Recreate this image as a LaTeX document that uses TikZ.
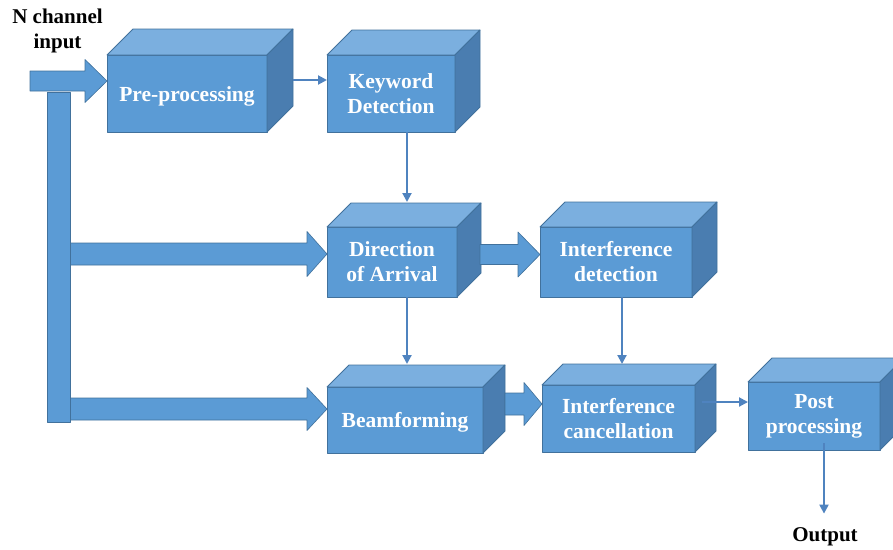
\documentclass[tikz,border=0pt]{standalone}
\usepackage{fontspec}
\setmainfont{Liberation Serif}
\usetikzlibrary{calc,arrows.meta}
\definecolor{frontc}{HTML}{5B9BD5}
\definecolor{topc}{HTML}{7BAFDF}
\definecolor{sidec}{HTML}{4A7DB0}
\definecolor{edgec}{HTML}{41719C}
\definecolor{connc}{HTML}{4F83BF}
\newcommand\cubefaces[2]{%
  \filldraw[topface] (#1.north west) -- ([shift={(#2,-#2)}]#1.north west) -- ([shift={(#2,-#2)}]#1.north east) -- (#1.north east) -- cycle;
  \filldraw[sideface] (#1.north east) -- ([shift={(#2,-#2)}]#1.north east) -- ([shift={(#2,-#2)}]#1.south east) -- (#1.south east) -- cycle;}
\newcommand\bigarrow[5]{%
  \filldraw[bigarr] let \p1=(#1), \p2=(#2) in
  (\x1,\y2+#3) -- (\x2-#5,\y2+#3) -- (\x2-#5,\y2+#4) -- (\x2,\y2) -- (\x2-#5,\y2-#4) -- (\x2-#5,\y2-#3) -- (\x1,\y2-#3) -- cycle;}
\begin{document}
\begin{tikzpicture}[x=1pt,y=-1pt,line join=round,
  box/.style={draw=edgec, fill=frontc, line width=0.8pt, outer sep=0pt, inner sep=0pt,
    text=white, font=\bfseries\fontsize{21.5}{25}\selectfont, align=center},
  topface/.style={fill=topc, draw=edgec, line width=0.8pt},
  sideface/.style={fill=sidec, draw=edgec, line width=0.8pt},
  conn/.style={draw=connc, line width=2pt, -{Triangle[length=9pt,width=9pt]}},
  bigarr/.style={fill=frontc, draw=edgec, line width=0.6pt},
  lbl/.style={font=\bfseries\fontsize{21}{25}\selectfont, align=center, inner sep=0pt}]
\useasboundingbox (0,0) rectangle (893,549);
\clip (0,0) rectangle (893,549);

% boxes (front faces)
\node[box, minimum width=160pt, minimum height=77pt] (pre) at (187,93.5) {\raisebox{-3pt}[\height][\depth]{Pre-processing}};
\node[box, minimum width=128pt, minimum height=77pt] (kw) at (391,93.5) {Keyword\\Detection};
\node[box, minimum width=130pt, minimum height=70pt] (doa) at (392,262) {Direction\\of Arrival};
\node[box, minimum width=152pt, minimum height=70pt] (id) at (616,262) {Interference\\detection};
\node[box, minimum width=156pt, minimum height=66pt] (bf) at (405,420) {\raisebox{-2pt}[\height][\depth]{Beamforming}};
\node[box, minimum width=153pt, minimum height=67pt] (ic) at (618.5,418.5) {Interference\\cancellation};
\node[box, minimum width=132pt, minimum height=68pt] (post) at (814,416) {Post\\processing};
\cubefaces{pre}{26}
\cubefaces{kw}{25}
\cubefaces{doa}{24}
\cubefaces{id}{25}
\cubefaces{bf}{22}
\cubefaces{ic}{21}
\cubefaces{post}{24}

% labels
\node[lbl] (nin) at (57.5,31) {N channel\\input};
\node[lbl] (out) at (825,537) {Output};

% wide arrows
\coordinate (in) at (30,82);
\coordinate (busA) at (70,254);
\coordinate (busB) at (70,409);
\bigarrow{in}{[yshift=12.5pt]pre.west}{10pt}{21.5pt}{22pt}
\bigarrow{busA}{[yshift=8pt]doa.west}{11pt}{22.5pt}{20pt}
\bigarrow{busB}{[yshift=11pt]bf.west}{11pt}{21.5pt}{20pt}
\bigarrow{[shift={(23,-7.5)}]doa.east}{[yshift=7.5pt]id.west}{10pt}{22.5pt}{22pt}
\bigarrow{[shift={(22,-14.5)}]bf.east}{[yshift=14.5pt]ic.west}{11pt}{21.5pt}{18pt}
\node[bigarr, minimum width=23pt, minimum height=330pt, inner sep=0pt, outer sep=0pt] (bus) at (58.5,257) {};

% thin connectors
\coordinate (a1) at ([shift={(26,-13.5)}]pre.east);
\draw[conn] (a1) -- (a1 -| kw.west);
\draw[conn] ([xshift=16pt]kw.south) -- ([shift={(15,-25)}]doa.north);
\draw[conn] ([xshift=15pt]doa.south) -- ([shift={(2,-23)}]bf.north);
\draw[conn] ([xshift=6pt]id.south) -- ([shift={(3.5,-21)}]ic.north);
\coordinate (a2) at ([shift={(7,-16.5)}]ic.east);
\draw[conn] (a2) -- (a2 -| post.west);
\coordinate (a3) at ([shift={(10,-7)}]post.south);
\draw[conn] (a3) -- ($(a3 |- out.north)+(0,-14)$);
\end{tikzpicture}
\end{document}
